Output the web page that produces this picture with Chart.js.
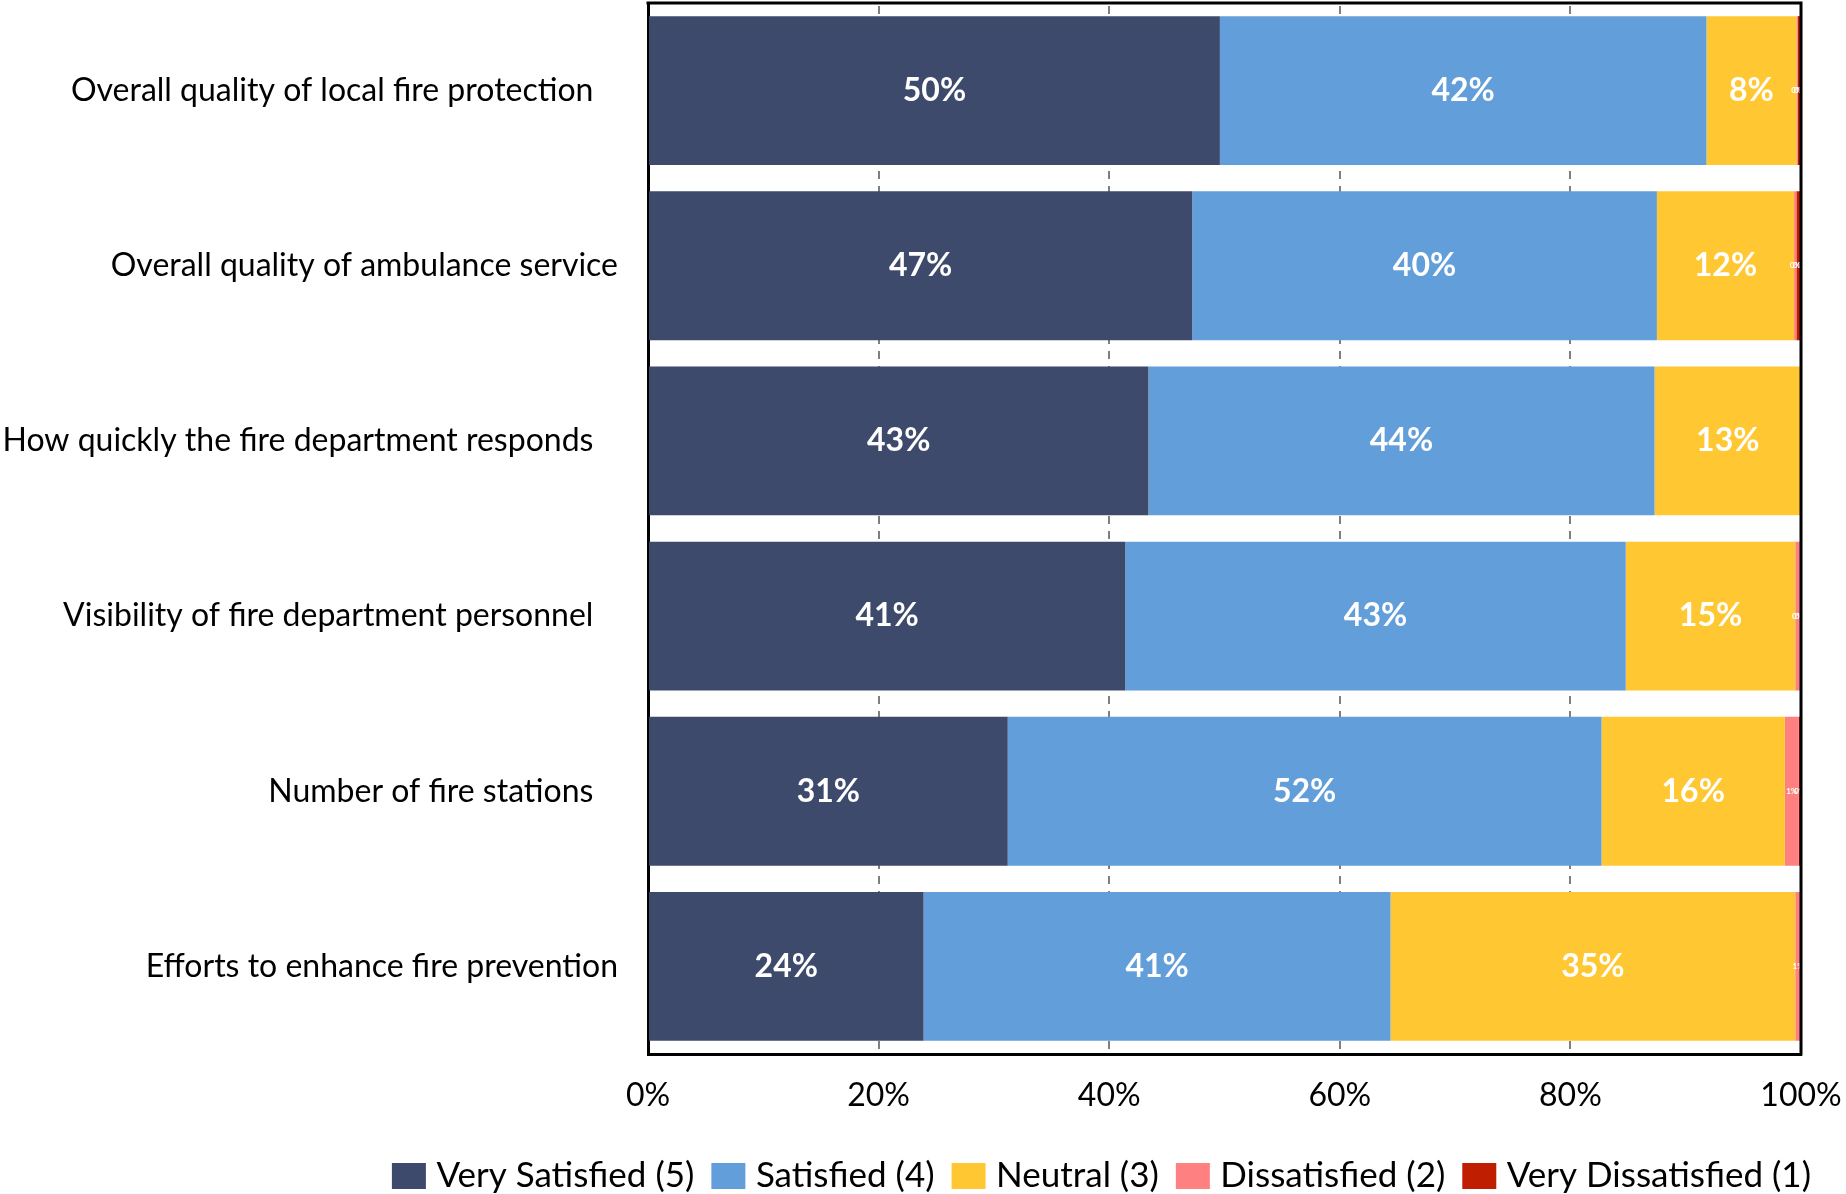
<!DOCTYPE html>
<html>
<head>
<meta charset="utf-8">
<title>Fire and Emergency Services Satisfaction</title>
<script src="https://cdn.jsdelivr.net/npm/chart.js@4.4.1/dist/chart.umd.min.js"></script>
<style>
  html, body { margin: 0; padding: 0; background: #ffffff; }
  #wrap { width: 1846px; height: 1194px; }
</style>
</head>
<body>
<div id="wrap"><canvas id="chart" width="1846" height="1194"></canvas></div>
<script>
// Survey items (trailing spaces keep the original label alignment)
const categories = [
  'Overall quality of local fire protection   ',
  'Overall quality of ambulance service',
  'How quickly the fire department responds   ',
  'Visibility of fire department personnel   ',
  'Number of fire stations   ',
  'Efforts to enhance fire prevention'
];

// Share of respondents (%) per rating
const verySatisfied    = [49.6, 47.2, 43.4, 41.4, 31.2, 23.9];
const satisfied        = [42.2, 40.3, 43.9, 43.4, 51.5, 40.5];
const neutral          = [7.8, 11.9, 12.7, 14.7, 15.9, 35.1];
const dissatisfied     = [0.1, 0.2, 0.0, 0.4, 1.2, 0.5];
const veryDissatisfied = [0.3, 0.4, 0.0, 0.1, 0.2, 0.0];

const seriesNames = ['Very Satisfied (5)', 'Satisfied (4)', 'Neutral (3)', 'Dissatisfied (2)', 'Very Dissatisfied (1)'];
const seriesColors = ['#3D4A6C', '#629ED9', '#FFC833', '#FF8080', '#BF1E00'];

const xTicks = [0, 20, 40, 60, 80, 100];

const FONT = 'Lato, "Open Sans", sans-serif';

// Percent labels centred in each bar segment
const segmentLabels = {
  id: 'segmentLabels',
  afterDatasetsDraw(chart) {
    const ctx = chart.ctx;
    ctx.save();
    ctx.textAlign = 'center';
    ctx.textBaseline = 'middle';
    ctx.fillStyle = '#ffffff';
    chart.data.datasets.forEach((ds, di) => {
      const meta = chart.getDatasetMeta(di);
      meta.data.forEach((bar, i) => {
        const v = ds.data[i];
        if (!v) return;
        const cx = (bar.x + bar.base) / 2;
        ctx.font = (v >= 3 ? 'bold 32px ' : 'bold 8px ') + FONT;
        ctx.fillText(Math.round(v) + '%', cx, bar.y);
      });
    });
    ctx.restore();
  }
};

// Closes the plot frame along the top and right edges
const plotFrame = {
  id: 'plotFrame',
  afterDatasetsDraw(chart) {
    const {ctx, chartArea: a} = chart;
    ctx.save();
    ctx.strokeStyle = '#000000';
    ctx.lineWidth = 3;
    ctx.beginPath();
    ctx.moveTo(a.left - 1.5, a.top);
    ctx.lineTo(a.right, a.top);
    ctx.lineTo(a.right, a.bottom + 1.5);
    ctx.stroke();
    ctx.restore();
  }
};

const datasets = [verySatisfied, satisfied, neutral, dissatisfied, veryDissatisfied].map((vals, k) => ({
  label: seriesNames[k],
  data: vals,
  backgroundColor: seriesColors[k],
  borderWidth: 0,
  categoryPercentage: 0.85,
  barPercentage: 1.0
}));

new Chart(document.getElementById('chart'), {
  type: 'bar',
  data: { labels: categories, datasets },
  options: {
    indexAxis: 'y',
    responsive: false,
    animation: false,
    devicePixelRatio: 1,
    layout: { padding: { top: 3, right: 11, bottom: 0, left: 0 } },
    scales: {
      x: {
        stacked: true,
        min: 0,
        max: 100,
        afterBuildTicks(scale) {
          scale.ticks = xTicks.map(v => ({ value: v }));
        },
        ticks: {
          padding: 22,
          color: '#000000',
          font: { family: FONT, size: 32 },
          callback: v => v + '%'
        },
        grid: {
          display: true,
          drawTicks: false,
          color: '#7F7F7F',
          lineWidth: 2
        },
        border: {
          display: true,
          color: '#000000',
          width: 3,
          dash: [8, 7],
          dashOffset: -3
        },
        afterFit(scale) {
          scale.height = 80.5;
          scale.paddingRight = 45;
          scale.paddingLeft = 0;
        }
      },
      y: {
        stacked: true,
        ticks: {
          padding: 30,
          color: '#000000',
          font: { family: FONT, size: 32 }
        },
        grid: { display: false, drawTicks: false },
        border: { display: true, color: '#000000', width: 3 },
        afterFit(scale) {
          scale.width = 648;
          scale.paddingTop = 0;
          scale.paddingBottom = 0;
        }
      }
    },
    plugins: {
      tooltip: { enabled: false },
      legend: {
        position: 'bottom',
        align: 'end',
        maxHeight: 59.5,
        labels: {
          boxWidth: 20,
          boxHeight: 12,
          padding: 24,
          color: '#000000',
          font: { family: FONT, size: 35 },
          generateLabels(chart) {
            const items = Chart.defaults.plugins.legend.labels.generateLabels(chart);
            return items.map(it => Object.assign(it, {
              lineWidth: 14,
              strokeStyle: it.fillStyle,
              lineJoin: 'miter'
            }));
          }
        }
      }
    }
  },
  plugins: [segmentLabels, plotFrame]
});
</script>
</body>
</html>
